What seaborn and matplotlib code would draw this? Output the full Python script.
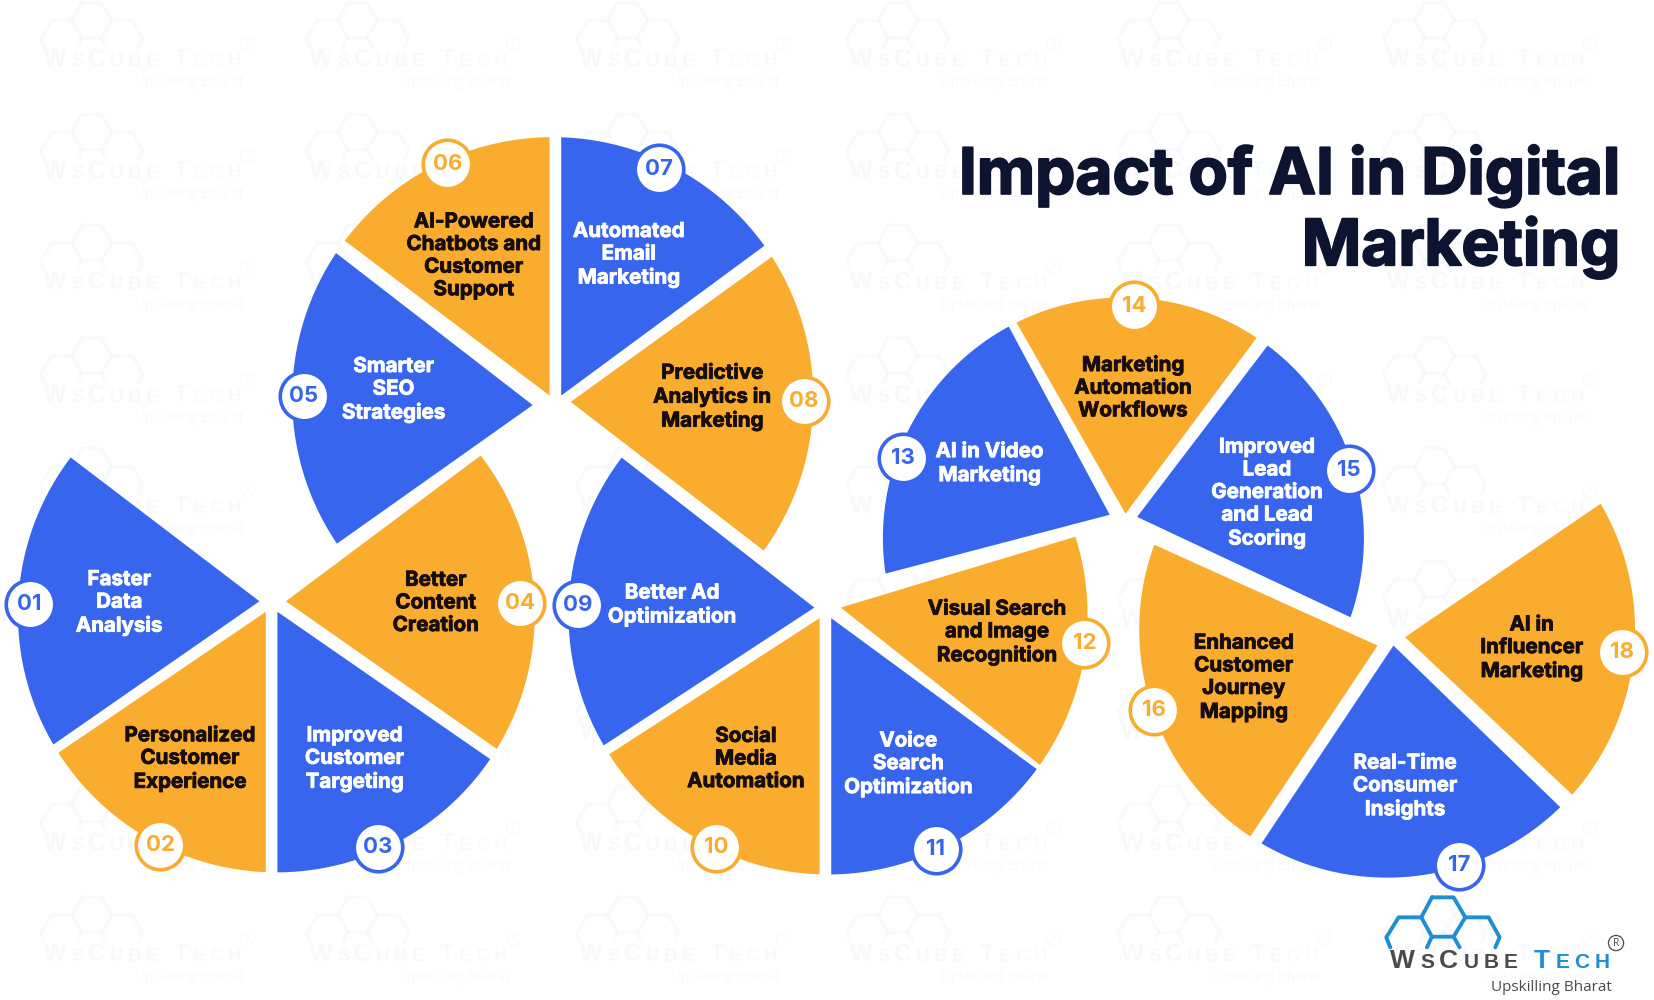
import matplotlib.patheffects as pe
import matplotlib.pyplot as plt
import numpy as np
import seaborn as sns

# slice names and numbers, counter-clockwise edges in degrees
labels = [
    "Faster\nData\nAnalysis", "Personalized\nCustomer\nExperience", "Improved\nCustomer\nTargeting",
    "Better\nContent\nCreation", "Smarter\nSEO\nStrategies", "AI-Powered\nChatbots and\nCustomer\nSupport",
    "Automated\nEmail\nMarketing", "Predictive\nAnalytics in\nMarketing", "Better Ad\nOptimization",
    "Social\nMedia\nAutomation", "Voice\nSearch\nOptimization", "Visual Search\nand Image\nRecognition",
    "AI in Video\nMarketing", "Marketing\nAutomation\nWorkflows", "Improved\nLead\nGeneration\nand Lead\nScoring",
    "Enhanced\nCustomer\nJourney\nMapping", "Real-Time\nConsumer\nInsights", "AI in\nInfluencer\nMarketing",
]
numbers = [f"{i:02d}" for i in range(1, 19)]
start_deg = [142.7, 214.2, 270, -35, 142.3, 90, 36.4, -37.6, 142.1, 212.9, 270, -38.3, 118.2, 53.3, -25.2, 155.7, 236.3, -43.3]
end_deg = [214.8, 270, 325.3, 36.8, 215.3, 142.9, 90, 35.8, 213.2, 270, 323.7, 16.8, 194.7, 119.7, 52.7, 236.3, 315.9, 34.3]
title = "Impact of AI in Digital\nMarketing"

# layout, in units of a 1568x948 canvas
tips = [(246, 570), (252, 580), (263, 580), (271, 570), (505, 384), (521, 375), (532, 375), (541, 381),
        (772, 576), (777, 586), (788, 586), (797, 576), (1052, 488), (1067, 487), (1078, 490),
        (1306, 612), (1321, 612), (1332, 604)]
pie_of_slice = [0, 0, 0, 0, 1, 1, 1, 1, 2, 2, 2, 2, 3, 3, 3, 4, 4, 4]
pie_centers = [(262, 582), (524, 377), (785, 583), (1065, 510), (1315, 597)]
pie_radius = [245, 247, 246, 228, 235]
text_pos = [(113, 572), (180, 720), (336, 720), (413, 572), (373, 370), (449, 243), (596, 242), (675, 377),
            (637, 574), (707, 720), (861, 725), (945, 600), (938, 440), (1074, 368), (1201, 468),
            (1179, 643), (1332, 746), (1452, 615)]
badge_pos = [(28, 573), (152, 801), (358, 803), (493, 572), (288, 375), (424, 155), (625, 160), (762, 380),
             (548, 574), (679, 803), (887, 805), (1028, 610), (856, 434), (1075, 290), (1279, 446),
             (1094, 673), (1383, 820), (1538, 618)]
is_blue = [True, False, True, False, True, False, True, False, True, False, True, False, True, False, True, False, True, False]

wm_x = [42, 294, 550, 806, 1063, 1315]
wm_y = [63, 169, 274, 381, 486, 593, 701, 806, 911]

BLUE, ORANGE = sns.color_palette(["#3765EE", "#F9AC2E"])
DARK = "#160D0C"

sns.set_theme(style="white")
plt.rcParams["font.family"] = ["Inter", "DejaVu Sans"]

fig = plt.figure(figsize=(16.54, 10), dpi=100)
ax = fig.add_axes([0, 0, 1, 1])
ax.set_xlim(0, 1568)
ax.set_ylim(948, 0)
ax.axis("off")
renderer = fig.canvas.get_renderer()
PX = 1654 / 1568


def ray_to_circle(tip, deg, center, r):
    # where the slice edge leaving the tip meets the outer circle
    d = np.array([np.cos(np.radians(deg)), -np.sin(np.radians(deg))])
    f = tip - center
    b = f @ d
    return tip + (-b + np.sqrt(b * b - f @ f + r * r)) * d


def draw_slice(tip, a0, a1, center, r, color):
    center = np.array(center, dtype=float)
    tip = np.array(tip, dtype=float)
    p0 = ray_to_circle(tip, a0, center, r) - center
    p1 = ray_to_circle(tip, a1, center, r) - center
    t0 = np.arctan2(-p0[1], p0[0])
    t1 = np.arctan2(-p1[1], p1[0])
    if t1 < t0:
        t1 += 2 * np.pi
    t = np.linspace(t0, t1, 80)
    xs = np.r_[tip[0], center[0] + r * np.cos(t)]
    ys = np.r_[tip[1], center[1] - r * np.sin(t)]
    ax.fill(xs, ys, color=color, lw=0, zorder=3)


def draw_logo(x0, y0, s, grey, cyan, zorder, alpha=1.0):
    k = 0.316 * s
    mid = [(275, 112), (340, 112), (375, 172), (340, 230), (275, 230), (243, 172), (275, 112)]
    left = [(243, 172), (175, 172), (138, 232), (150, 262)]
    right = [(375, 172), (445, 172), (478, 232), (465, 262)]
    legs = [[(275, 230), (260, 262)], [(340, 230), (358, 262)]]
    for path in [mid, left, right] + legs:
        path = np.array(path, dtype=float)
        ax.plot(x0 + (path[:, 0] - 150) * k, y0 + (path[:, 1] - 325) * k, color=cyan, lw=2.8 * s, alpha=alpha,
                solid_capstyle="round", zorder=zorder)
    x = x0
    big = 19 * s
    small = 15 * s
    for ch, size, col in [("W", big, grey), ("S", small, grey), ("C", big, grey), ("U", small, grey), ("B", small, grey),
                          ("E", small, grey), (None, 0, None), ("T", big, cyan), ("E", small, cyan), ("C", small, cyan),
                          ("H", small, cyan)]:
        if ch is None:
            x += 11 * s
            continue
        t = ax.text(x, y0, ch, fontsize=size, color=col, alpha=alpha, family="Liberation Sans", weight="bold",
                    ha="left", va="baseline", zorder=zorder)
        x += t.get_window_extent(renderer).width / PX + 4.8 * s
    ax.text(x0 + 210 * s, y0 + 21 * s, "Upskilling Bharat", fontsize=11 * s, color=grey, alpha=alpha,
            family="Open Sans", ha="right", va="baseline", zorder=zorder)
    ax.scatter([x0 + 214 * s], [y0 - 24 * s], s=120 * s * s, facecolor="none", edgecolor=grey, lw=0.9 * s, alpha=alpha, zorder=zorder)
    ax.text(x0 + 214 * s, y0 - 24 * s, "R", fontsize=7.5 * s, color=grey, alpha=alpha, family="Open Sans",
            ha="center", va="center", zorder=zorder)


# watermark grid
for wx in wm_x:
    for wy in wm_y:
        draw_logo(wx, wy, 0.9, "#555555", "#2A93D5", 1, alpha=0.03)

for i in range(18):
    p = pie_of_slice[i]
    col = "white" if is_blue[i] else DARK
    draw_slice(tips[i], start_deg[i], end_deg[i], pie_centers[p], pie_radius[p], BLUE if is_blue[i] else ORANGE)
    ax.text(*text_pos[i], labels[i], color=col, fontsize=14.8, weight="bold", ha="center", va="center", linespacing=1.33,
            zorder=4, path_effects=[pe.withStroke(linewidth=0.6, foreground=col)])

# number badges
badge_xy = np.array(badge_pos)
mask = np.array(is_blue)
for m, col in [(mask, BLUE), (~mask, ORANGE)]:
    sns.scatterplot(x=badge_xy[m, 0], y=badge_xy[m, 1], s=1220, color="white", edgecolor=col, linewidth=2.6, ax=ax, zorder=5, legend=False)
for i in range(18):
    ax.text(*badge_pos[i], numbers[i], color=BLUE if is_blue[i] else ORANGE, fontsize=16, weight="bold",
            ha="center", va="center", zorder=6)
ax.set_xlim(0, 1568)
ax.set_ylim(948, 0)
ax.axis("off")

ax.text(1536, 201, title, color="#0D1430", fontsize=46, weight="bold", ha="right", va="center", linespacing=1.17, zorder=4,
        path_effects=[pe.withStroke(linewidth=1.4, foreground="#0D1430")])

draw_logo(1318, 918, 1.0, "#4B4B4F", "#1F8FD2", 7)

fig.savefig("out.png", dpi=100, facecolor="white")
